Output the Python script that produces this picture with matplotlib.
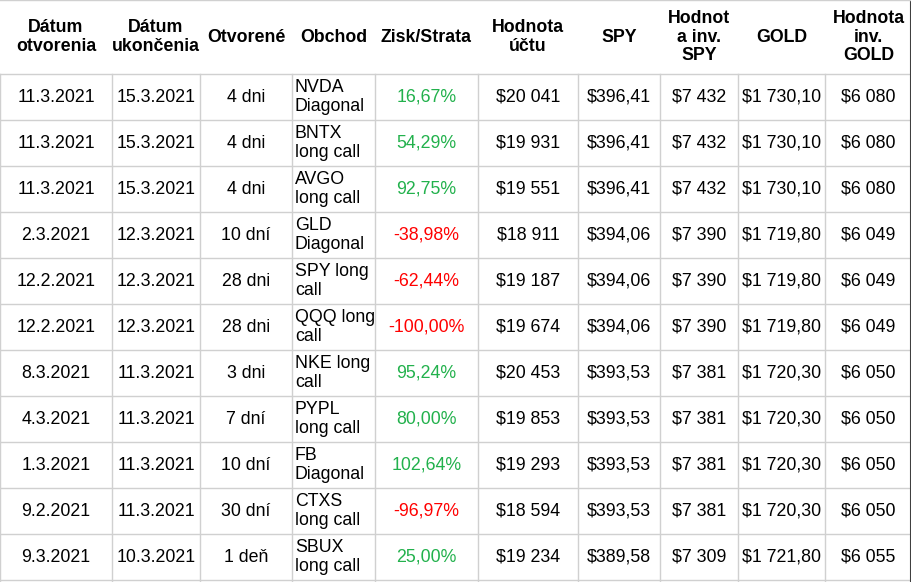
import matplotlib
matplotlib.use("Agg")
import matplotlib.pyplot as plt

headers = ["Dátum\notvorenia", "Dátum\nukončenia", "Otvorené", "Obchod", "Zisk/Strata",
           "Hodnota\núčtu", "SPY", "Hodnot\na inv.\nSPY", "GOLD", "Hodnota\ninv.\nGOLD"]
opened = ["11.3.2021", "11.3.2021", "11.3.2021", "2.3.2021", "12.2.2021", "12.2.2021",
          "8.3.2021", "4.3.2021", "1.3.2021", "9.2.2021", "9.3.2021"]
closed = ["15.3.2021", "15.3.2021", "15.3.2021", "12.3.2021", "12.3.2021", "12.3.2021",
          "11.3.2021", "11.3.2021", "11.3.2021", "11.3.2021", "10.3.2021"]
duration = ["4 dni", "4 dni", "4 dni", "10 dní", "28 dni", "28 dni", "3 dni", "7 dní",
            "10 dní", "30 dní", "1 deň"]
trade = ["NVDA\nDiagonal", "BNTX\nlong call", "AVGO\nlong call", "GLD\nDiagonal",
         "SPY long\ncall", "QQQ long\ncall", "NKE long\ncall", "PYPL\nlong call",
         "FB\nDiagonal", "CTXS\nlong call", "SBUX\nlong call"]
pnl = [16.67, 54.29, 92.75, -38.98, -62.44, -100.00, 95.24, 80.00, 102.64, -96.97, 25.00]
account = ["$20 041", "$19 931", "$19 551", "$18 911", "$19 187", "$19 674", "$20 453",
           "$19 853", "$19 293", "$18 594", "$19 234"]
spy = ["$396,41"] * 3 + ["$394,06"] * 3 + ["$393,53"] * 4 + ["$389,58"]
spy_inv = ["$7 432"] * 3 + ["$7 390"] * 3 + ["$7 381"] * 4 + ["$7 309"]
gold = ["$1 730,10"] * 3 + ["$1 719,80"] * 3 + ["$1 720,30"] * 4 + ["$1 721,80"]
gold_inv = ["$6 080"] * 3 + ["$6 049"] * 3 + ["$6 050"] * 4 + ["$6 055"]

col_edges = [0, 112, 200, 292, 375, 478, 578, 660, 738, 825, 912]
header_h = 74
row_h = 46
fs = 12.8

plt.rcParams["font.family"] = ["Liberation Sans", "DejaVu Sans"]
fig = plt.figure(figsize=(9.12, 5.82), dpi=100)
ax = fig.add_axes([0, 0, 1, 1])
ax.set_xlim(0, 912)
ax.set_ylim(582, 0)
ax.axis("off")

n = len(opened)
for i in range(n + 1):
    y = header_h + i * row_h
    ax.plot([0, 912], [y, y], color="#d0d0d0", lw=1)
for x in col_edges[:-1]:
    ax.plot([x, x], [header_h, 582], color="#d0d0d0", lw=1)
ax.plot([911, 911], [0, 582], color="#404040", lw=1.5)
ax.plot([0, 912], [0, 0], color="#d0d0d0", lw=1)

centers = [(col_edges[k] + col_edges[k + 1]) / 2 for k in range(10)]
for k, h in enumerate(headers):
    ax.text(centers[k], header_h / 2, h, ha="center", va="center", fontsize=fs,
            fontweight="bold", linespacing=1.1)

for i in range(n):
    yc = header_h + i * row_h + row_h / 2
    cells = [opened[i], closed[i], duration[i], None, None, account[i], spy[i],
             spy_inv[i], gold[i], gold_inv[i]]
    for k, c in enumerate(cells):
        if c is not None:
            ax.text(centers[k], yc, c, ha="center", va="center", fontsize=fs)
    ax.text(col_edges[3] + 3, yc, trade[i], ha="left", va="center", fontsize=fs,
            linespacing=1.2)
    p = pnl[i]
    ax.text(centers[4], yc, f"{p:.2f}%".replace(".", ","), ha="center", va="center",
            fontsize=fs, color="#22b14c" if p >= 0 else "#ff0000")

fig.savefig("out.png", dpi=100, facecolor="white")
